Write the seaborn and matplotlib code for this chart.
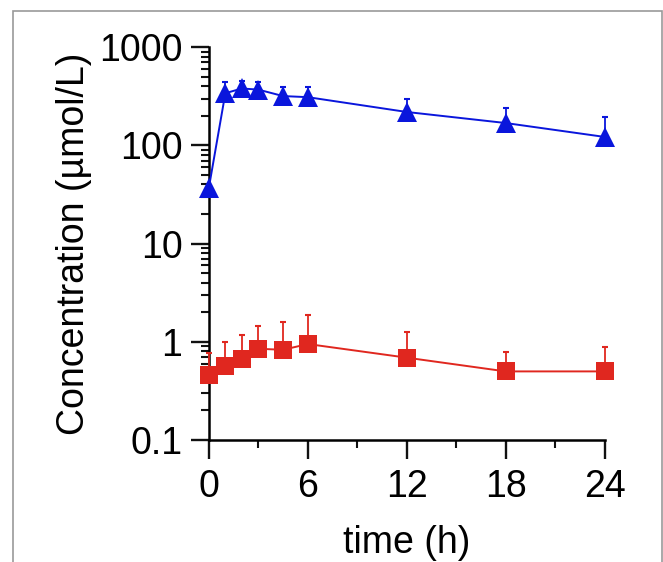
import matplotlib
matplotlib.use('Agg')
import matplotlib.pyplot as plt
import matplotlib.ticker as mticker
from matplotlib.patches import Rectangle
import numpy as np
import pandas as pd
import seaborn as sns

# data (mean and top of the upper error bar)
time_h = [0, 1, 2, 3, 4.5, 6, 12, 18, 24]
blue_mean = [37, 340, 380, 370, 318, 310, 219, 169, 122]
blue_upper = [37, 440, 450, 440, 393, 393, 296, 240, 195]
red_mean = [0.46, 0.57, 0.67, 0.85, 0.83, 0.95, 0.69, 0.50, 0.50]
red_upper = [0.77, 1.0, 1.18, 1.45, 1.6, 1.88, 1.27, 0.79, 0.89]

x_ticks = [0, 6, 12, 18, 24]
y_ticks = [0.1, 1, 10, 100, 1000]
y_ticklabels = ['0.1', '1', '10', '100', '1000']

blue = '#0a16dc'
red = '#e0271f'

sns.set_theme(style='ticks')
plt.rcParams['font.family'] = ['Liberation Sans', 'DejaVu Sans']

fig = plt.figure(figsize=(6.63, 5.62), dpi=100)
ax = fig.add_axes([0.315, 0.217, 0.597, 0.699])

df = pd.DataFrame({'time': time_h, 'blue': blue_mean, 'red': red_mean})

# upper-only error bars, behind the markers
for mean, upper, col in [(blue_mean, blue_upper, blue), (red_mean, red_upper, red)]:
    lo = np.zeros(len(mean))
    hi = np.array(upper) - np.array(mean)
    ax.errorbar(time_h, mean, yerr=[lo, hi], fmt='none', ecolor=col,
                elinewidth=1.3, capsize=2.5, capthick=1.5, zorder=3, clip_on=False)

sns.lineplot(data=df, x='time', y='blue', ax=ax, color=blue, marker='^',
             markersize=15, markeredgewidth=0, linewidth=1.4, zorder=4, clip_on=False)
sns.lineplot(data=df, x='time', y='red', ax=ax, color=red, marker='s',
             markersize=13, markeredgewidth=0, linewidth=1.4, zorder=4, clip_on=False)

ax.set_yscale('log')
ax.set_ylim(0.1, 1000)
ax.set_xlim(0, 24)
ax.set_xticks(x_ticks)
ax.set_xticklabels([str(t) for t in x_ticks])
ax.xaxis.set_minor_locator(mticker.MultipleLocator(3))
ax.set_yticks(y_ticks)
ax.set_yticklabels(y_ticklabels)
ax.yaxis.set_minor_locator(mticker.LogLocator(base=10, subs=np.arange(2, 10)))
ax.yaxis.set_minor_formatter(mticker.NullFormatter())

sns.despine(ax=ax)
for side in ['left', 'bottom']:
    ax.spines[side].set_linewidth(1.8)
    ax.spines[side].set_color('black')

ax.tick_params(which='major', length=13, width=1.7, color='#111111',
               labelsize=27, pad=6, labelcolor='black')
ax.tick_params(which='minor', length=6, width=1.5, color='#111111')
ax.tick_params(axis='x', which='major', length=14, pad=7)

ax.set_ylabel('Concentration (µmol/L)', fontsize=27, color='black')
ax.set_xlabel('time (h)', fontsize=27, color='black')
ax.yaxis.set_label_coords(-0.296, 0.5)
ax.xaxis.set_label_coords(0.5, -0.215)

# thin grey frame around the figure
fig.patches.append(Rectangle((0.02, -0.05), 0.978, 1.03, transform=fig.transFigure,
                             fill=False, edgecolor='#999999', linewidth=1.2))

fig.savefig('out.png', dpi=100)
